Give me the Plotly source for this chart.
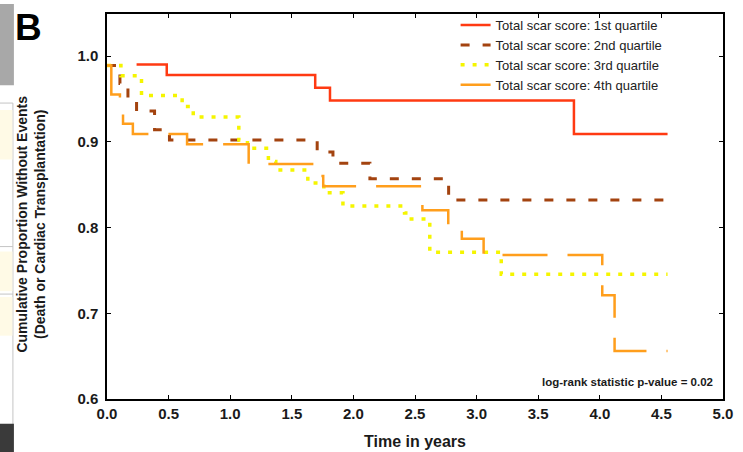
import plotly.graph_objects as go

# ---- data ----
series_names = [
    "Total scar score: 1st quartile",
    "Total scar score: 2nd quartile",
    "Total scar score: 3rd quartile",
    "Total scar score: 4th quartile",
]

time_q1 = [0.24, 0.485, 1.69, 1.81, 3.79, 4.55]
surv_q1 = [0.990, 0.978, 0.963, 0.948, 0.909, 0.909]

time_q2 = [0.0, 0.105, 0.17, 0.24, 0.386, 0.507, 1.706, 1.834, 2.134, 2.773, 4.55]
surv_q2 = [0.989, 0.968, 0.951, 0.936, 0.914, 0.902, 0.888, 0.875, 0.857, 0.832, 0.832]

time_q3 = [0.0, 0.113, 0.28, 0.61, 0.70, 1.07, 1.14, 1.31, 1.37, 1.63, 1.76, 1.915,
           2.415, 2.455, 2.62, 3.20, 4.55]
surv_q3 = [0.989, 0.977, 0.954, 0.941, 0.929, 0.902, 0.8925, 0.877, 0.867, 0.852, 0.8405,
           0.825, 0.817, 0.810, 0.771, 0.7455, 0.7455]

time_q4 = [0.0, 0.035, 0.105, 0.13, 0.21, 0.65, 1.15, 1.665, 1.755, 2.56, 2.77, 2.88,
           3.057, 4.02, 4.12, 4.55]
surv_q4 = [0.989, 0.955, 0.935, 0.921, 0.909, 0.897, 0.874, 0.860, 0.848, 0.820, 0.803,
           0.787, 0.768, 0.721, 0.656, 0.656]

x_ticks = [0.0, 0.5, 1.0, 1.5, 2.0, 2.5, 3.0, 3.5, 4.0, 4.5, 5.0]
y_ticks = [0.6, 0.7, 0.8, 0.9, 1.0]

# ---- styles ----
colors = ["#FF3A12", "#A3430F", "#F5F500", "#FF9E1C"]
dashes = ["solid", "9px,13px", "4px,8px", "45px,20px"]
widths = [2.5, 3, 3.5, 2.5]

W, H = 743, 452
L, R, T, B = 107, 14, 10, 53
PW, PH = W - L - R, H - T - B


def px(x):
    return (x - L) / PW


def py(y):
    return (H - B - y) / PH


fig = go.Figure()
series = [(time_q1, surv_q1), (time_q2, surv_q2), (time_q3, surv_q3), (time_q4, surv_q4)]
for i, (t, s) in enumerate(series):
    fig.add_trace(go.Scatter(
        x=t, y=s, mode="lines", name=series_names[i],
        line=dict(color=colors[i], width=widths[i], dash=dashes[i], shape="hv"),
    ))

font_family = "Liberation Sans, Arial, Helvetica, sans-serif"

fig.update_layout(
    width=W, height=H,
    margin=dict(l=L, r=R, t=T, b=B, pad=0),
    paper_bgcolor="white", plot_bgcolor="white",
    font=dict(family=font_family, color="#1a1a1a"),
    showlegend=True,
    legend=dict(
        x=px(459), y=py(6), xanchor="left", yanchor="top",
        bgcolor="rgba(0,0,0,0)", font=dict(size=13, color="#222222"),
        tracegroupgap=0, itemwidth=30,
    ),
    xaxis=dict(
        range=[0, 5], tickvals=x_ticks, ticktext=[f"{v:.1f}" for v in x_ticks],
        ticks="inside", ticklen=4, tickwidth=1.2, tickcolor="black",
        showline=True, linecolor="black", linewidth=1.5, mirror="ticks",
        showgrid=False, zeroline=False,
        tickfont=dict(size=15, weight="bold", color="#1a1a1a"),
    ),
    yaxis=dict(
        range=[0.6, 1.049], tickvals=y_ticks, ticktext=[f"{v:.1f}" for v in y_ticks],
        ticks="inside", ticklen=4, tickwidth=1.2, tickcolor="black",
        showline=True, linecolor="black", linewidth=1.5, mirror="ticks",
        showgrid=False, zeroline=False, ticklabelstandoff=4,
        tickfont=dict(size=15, weight="bold", color="#1a1a1a"),
    ),
)

annotations = [
    dict(text="Time in years", x=px(418), y=py(442), xref="paper", yref="paper",
         showarrow=False, xanchor="center", yanchor="middle",
         font=dict(size=16, weight="bold", color="#1a1a1a")),
    dict(text="Cumulative Proportion Without Events<br>(Death or Cardiac Transplantation)",
         x=px(30), y=py(222), xref="paper", yref="paper", textangle=-90,
         showarrow=False, xanchor="center", yanchor="middle",
         font=dict(size=14, weight="bold", color="#1a1a1a")),
    dict(text="log-rank statistic p-value = 0.02", x=px(721), y=py(382),
         xref="paper", yref="paper", showarrow=False, xanchor="right", yanchor="middle",
         font=dict(size=11.5, weight="bold", color="#1a1a1a")),
    dict(text="B", x=px(28), y=py(24), xref="paper", yref="paper", showarrow=False,
         xanchor="center", yanchor="middle",
         font=dict(size=37, weight="bold", color="black")),
]
fig.update_layout(annotations=annotations)

# left-edge remnants of the neighbouring panel
shapes = [
    dict(type="rect", x0=px(-2), x1=px(13), y0=py(0), y1=py(82), xref="paper", yref="paper",
         fillcolor="#A8A8A8", line=dict(width=0)),
    dict(type="rect", x0=px(-2), x1=px(12), y0=py(100), y1=py(437), xref="paper", yref="paper",
         fillcolor="rgba(0,0,0,0)", line=dict(width=1, color="#C4C4C4")),
    dict(type="rect", x0=px(-2), x1=px(11.5), y0=py(107), y1=py(157), xref="paper", yref="paper",
         fillcolor="#FFFAE6", line=dict(width=0)),
    dict(type="rect", x0=px(-2), x1=px(11.5), y0=py(250), y1=py(290), xref="paper", yref="paper",
         fillcolor="#FFFAE6", line=dict(width=0)),
    dict(type="rect", x0=px(-2), x1=px(11.5), y0=py(296), y1=py(335), xref="paper", yref="paper",
         fillcolor="#FFFAE6", line=dict(width=0)),
    dict(type="line", x0=px(-2), x1=px(12), y0=py(245), y1=py(245), xref="paper", yref="paper",
         line=dict(width=1, color="#C4C4C4")),
    dict(type="line", x0=px(-2), x1=px(12), y0=py(293), y1=py(293), xref="paper", yref="paper",
         line=dict(width=1, color="#C4C4C4")),
    dict(type="rect", x0=px(-2), x1=px(13), y0=py(424), y1=py(454), xref="paper", yref="paper",
         fillcolor="#3A3A3A", line=dict(width=0)),
]
fig.update_layout(shapes=shapes)

fig.write_html("out.html")
